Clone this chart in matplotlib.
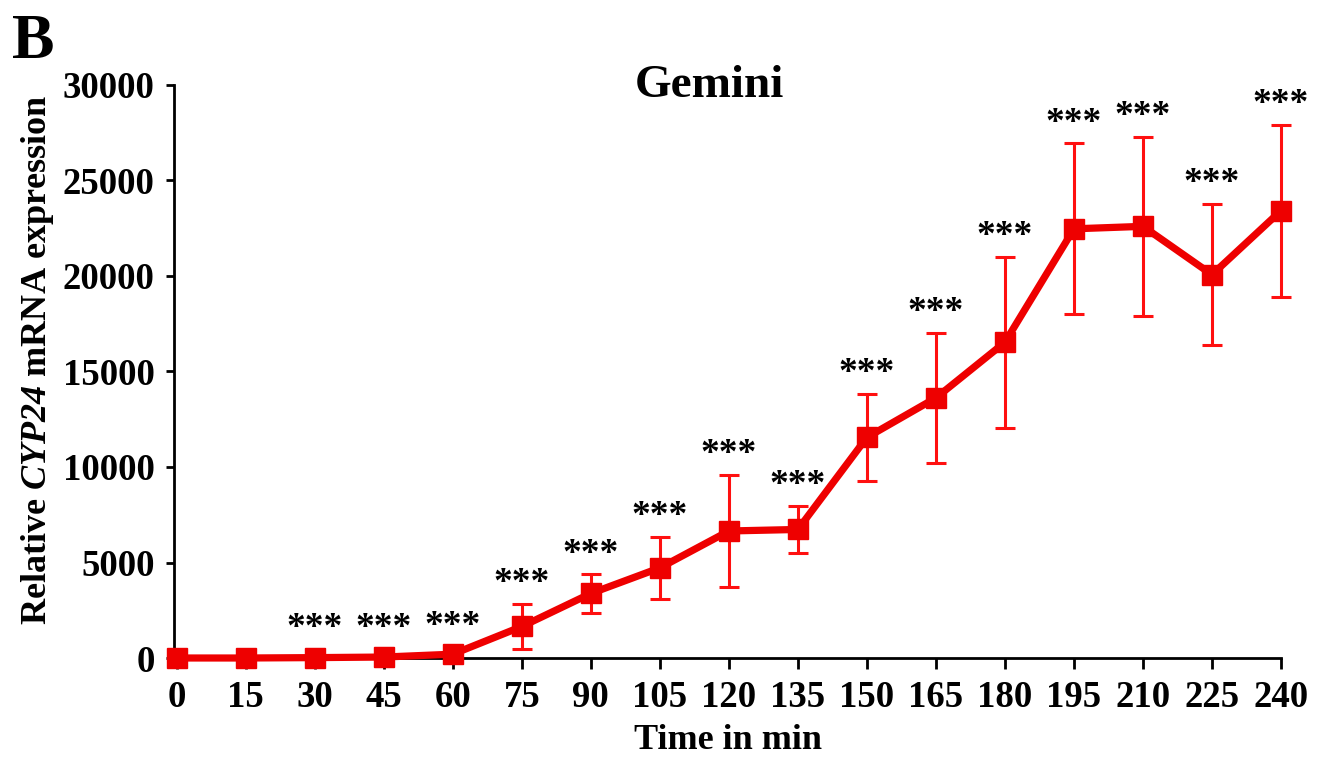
import matplotlib
matplotlib.use("Agg")
import matplotlib.pyplot as plt
import numpy as np

# Time course of CYP24 expression
time_min = [0, 15, 30, 45, 60, 75, 90, 105, 120, 135, 150, 165, 180, 195, 210, 225, 240]
expression = [0, 0, 20, 50, 200, 1650, 3380, 4720, 6650, 6730, 11550, 13620, 16530, 22470, 22600, 20070, 23420]
expression_err = [0, 0, 450, 450, 400, 1180, 1000, 1610, 2930, 1250, 2290, 3420, 4470, 4470, 4670, 3690, 4500]
significance = ["", "", "***", "***", "***", "***", "***", "***", "***", "***", "***", "***", "***",
                "***", "***", "***", "***"]
x_ticks = list(range(0, 241, 15))
y_ticks = [0, 5000, 10000, 15000, 20000, 25000, 30000]

plt.rcParams["font.family"] = ["Liberation Serif", "DejaVu Serif"]
plt.rcParams["font.weight"] = "bold"
plt.rcParams["mathtext.fontset"] = "custom"
plt.rcParams["mathtext.it"] = "Liberation Serif:italic:bold"
plt.rcParams["mathtext.rm"] = "Liberation Serif:italic:bold"

red = "#ee0000"

fig = plt.figure(figsize=(13.19, 7.6), dpi=100)
ax = fig.add_axes([174 / 1319, 1 - 658 / 760, (1281 - 174) / 1319, (658 - 85) / 760])

ax.errorbar(time_min, expression, yerr=expression_err, fmt="none", ecolor="#ff1010",
            elinewidth=2.2, capsize=7, capthick=2.2, clip_on=False, zorder=2)
ax.plot(time_min, expression, color=red, linewidth=5.2, marker="s", markersize=14,
        clip_on=False, zorder=3)

# significance stars above each error bar
for t, m, e, s in zip(time_min, expression, expression_err, significance):
    if s:
        ax.annotate(s, (t, m + e), xytext=(0, 2), textcoords="offset points",
                    ha="center", va="bottom", fontsize=27, fontweight="bold",
                    color="black")

ax.set_xlim(-0.6, 240)
ax.set_ylim(0, 30000)
ax.set_xticks(x_ticks)
ax.set_yticks(y_ticks)
ax.tick_params(axis="x", length=8, width=2, pad=8, labelsize=26.5, direction="out")
ax.tick_params(axis="y", length=6, width=2, pad=8, labelsize=26.5, direction="out")
for lab in ax.get_xticklabels() + ax.get_yticklabels():
    lab.set_fontweight("bold")

for side in ["top", "right"]:
    ax.spines[side].set_visible(False)
for side in ["left", "bottom"]:
    ax.spines[side].set_linewidth(2)

ax.set_xlabel("Time in min", fontsize=26, fontweight="bold", labelpad=6)
fig.text(38 / 1319, 1 - 360 / 760, r"Relative $CYP24$ mRNA expression",
         rotation=90, ha="center", va="center", fontsize=26, fontweight="bold")
fig.text(709 / 1319, 1 - 97 / 760, "Gemini", ha="center", va="baseline",
         fontsize=34, fontweight="bold")
fig.text(12 / 1319, 1 - 58 / 760, "B", ha="left", va="baseline",
         fontsize=46, fontweight="bold")

fig.savefig("out.png", dpi=100)
